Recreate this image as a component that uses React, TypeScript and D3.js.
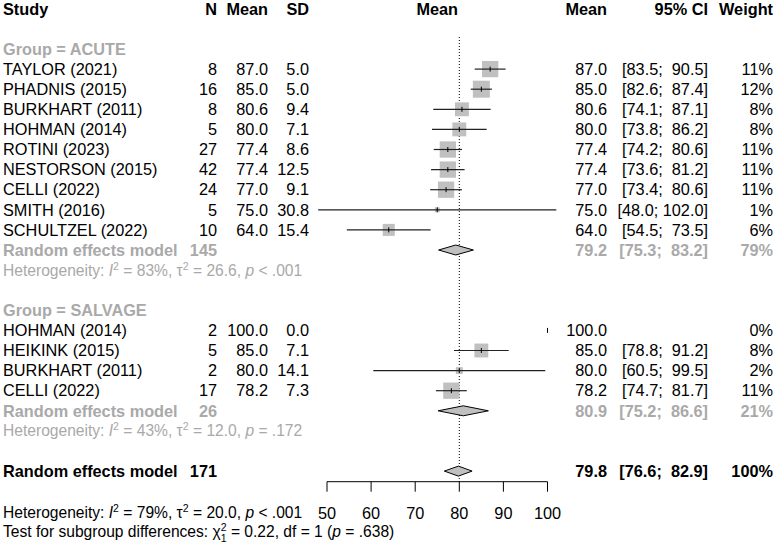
import React from "react";
import * as d3 from "d3";

// acute group
const acuteStudy = ["TAYLOR (2021)", "PHADNIS (2015)", "BURKHART (2011)", "HOHMAN (2014)", "ROTINI (2023)", "NESTORSON (2015)", "CELLI (2022)", "SMITH (2016)", "SCHULTZEL (2022)"];
const acuteN = [8, 16, 8, 5, 27, 42, 24, 5, 10];
const acuteMean = [87.0, 85.0, 80.6, 80.0, 77.4, 77.4, 77.0, 75.0, 64.0];
const acuteSD = [5.0, 5.0, 9.4, 7.1, 8.6, 12.5, 9.1, 30.8, 15.4];
const acuteLower = [83.5, 82.6, 74.1, 73.8, 74.2, 73.6, 73.4, 48.0, 54.5];
const acuteUpper = [90.5, 87.4, 87.1, 86.2, 80.6, 81.2, 80.6, 102.0, 73.5];
const acuteWeight = [11, 12, 8, 8, 11, 11, 11, 1, 6];

// salvage group
const salvageStudy = ["HOHMAN (2014)", "HEIKINK (2015)", "BURKHART (2011)", "CELLI (2022)"];
const salvageN = [2, 5, 2, 17];
const salvageMean = [100.0, 85.0, 80.0, 78.2];
const salvageSD = [0.0, 7.1, 14.1, 7.3];
const salvageLower = [100.0, 78.8, 60.5, 74.7];
const salvageUpper = [100.0, 91.2, 99.5, 81.7];
const salvageWeight = [0, 8, 2, 11];

// pooled: acute, salvage, overall
const pooledN = [145, 26, 171];
const pooledMean = [79.2, 80.9, 79.8];
const pooledLower = [75.3, 75.2, 76.6];
const pooledUpper = [83.2, 86.6, 82.9];
const pooledWeight = [79, 21, 100];
const hetI2 = ["83%", "43%", "79%"];
const hetTau2 = ["26.6", "12.0", "20.0"];
const hetP = ["< .001", "= .172", "< .001"];
const testChi = "0.22";
const testDf = 1;
const testP = ".638";

const axisTicks = [50, 60, 70, 80, 90, 100];

const FONT = "'Liberation Sans', Arial, Helvetica, sans-serif";
const FS = 16.3;
const HFS = 15.6; // heterogeneity / test lines
const SUP = 10.5;
const GRAY = "#a9a9a9";
const BOX = "#c0c0c0";

const x = d3.scaleLinear().domain([50, 100]).range([327, 547.5]);
const rowY = (i: number) => 49 + 20.1 * i;
const colN = 217, colMean = 268, colSD = 309, colEst = 607, colCI = 708, colW = 773;
const axisY = 481.7;
const fmt = d3.format(".1f");
const maxW = d3.max([...acuteWeight, ...salvageWeight]) as number;
const side = (w: number) => 17 * Math.sqrt(w / maxW);

const padL = (s: string, n: number) => " ".repeat(Math.max(0, n - s.length)) + s;
const ciText = (lo: number, hi: number) => `[${padL(fmt(lo), 4)}; ${padL(fmt(hi), 5)}]`;

const Het = ({ y, k, fill }: { y: number; k: number; fill: string }) => (
  <text x={3} y={y} dy="0.35em" fill={fill} fontSize={HFS}>
    {"Heterogeneity: "}
    <tspan fontStyle="italic">I</tspan>
    <tspan dy={-6} fontSize={SUP}>2</tspan>
    <tspan dy={6}>{` = ${hetI2[k]}, \u03c4`}</tspan>
    <tspan dy={-6} fontSize={SUP}>2</tspan>
    <tspan dy={6}>{` = ${hetTau2[k]}, `}</tspan>
    <tspan fontStyle="italic">p</tspan>
    <tspan>{` ${hetP[k]}`}</tspan>
  </text>
);

const StudyRow = (props: any) => {
  const { name, n, mean, sd, lo, hi, w, y } = props;
  const s = side(w);
  return (
    <g>
      <text x={3} y={y} dy="0.35em">{name}</text>
      <text x={colN} y={y} dy="0.35em" textAnchor="end">{n}</text>
      <text x={colMean} y={y} dy="0.35em" textAnchor="end">{fmt(mean)}</text>
      <text x={colSD} y={y} dy="0.35em" textAnchor="end">{fmt(sd)}</text>
      {w > 0 && <rect x={x(mean) - s / 2} y={y - s / 2} width={s} height={s} fill={BOX} />}
      {hi > lo && <line x1={x(lo)} x2={x(hi)} y1={y} y2={y} stroke="#222" strokeWidth={1.2} />}
      <line x1={x(mean)} x2={x(mean)} y1={y - 2.5} y2={y + 2.5} stroke="#000" strokeWidth={1} />
      <text x={colEst} y={y} dy="0.35em" textAnchor="end">{fmt(mean)}</text>
      {hi > lo && <text x={colCI} y={y} dy="0.35em" textAnchor="end" style={{ whiteSpace: "pre" }}>{ciText(lo, hi)}</text>}
      <text x={colW} y={y} dy="0.35em" textAnchor="end">{`${w}%`}</text>
    </g>
  );
};

const PooledRow = ({ k, y, color }: { k: number; y: number; color: string }) => {
  const m = pooledMean[k], lo = pooledLower[k], hi = pooledUpper[k];
  const pts = [[x(lo), y], [x(m), y - 5], [x(hi), y], [x(m), y + 5]].map(p => p.join(",")).join(" ");
  return (
    <g fontWeight="bold" fill={color}>
      <text x={3} y={y} dy="0.35em">Random effects model</text>
      <text x={colN} y={y} dy="0.35em" textAnchor="end">{pooledN[k]}</text>
      <polygon points={pts} fill={BOX} stroke="#000" strokeWidth={1} />
      <text x={colEst} y={y} dy="0.35em" textAnchor="end">{fmt(m)}</text>
      <text x={colCI} y={y} dy="0.35em" textAnchor="end" style={{ whiteSpace: "pre" }}>{ciText(lo, hi)}</text>
      <text x={colW} y={y} dy="0.35em" textAnchor="end">{`${pooledWeight[k]}%`}</text>
    </g>
  );
};

const App = () => {
  const salvageStart = 14;
  return (
    <svg width={775} height={544} style={{ position: "absolute", left: 0, top: 0, background: "#fff" }}
      fontFamily={FONT} fontSize={FS} fill="#000">
      {/* header */}
      <g fontWeight="bold">
        <text x={3} y={9} dy="0.35em">Study</text>
        <text x={colN} y={9} dy="0.35em" textAnchor="end">N</text>
        <text x={colMean} y={9} dy="0.35em" textAnchor="end">Mean</text>
        <text x={colSD} y={9} dy="0.35em" textAnchor="end">SD</text>
        <text x={(x(50) + x(100)) / 2} y={9} dy="0.35em" textAnchor="middle">Mean</text>
        <text x={colEst} y={9} dy="0.35em" textAnchor="end">Mean</text>
        <text x={colCI} y={9} dy="0.35em" textAnchor="end">95% CI</text>
        <text x={colW} y={9} dy="0.35em" textAnchor="end">Weight</text>
      </g>

      {/* reference line */}
      <line x1={x(80)} x2={x(80)} y1={37} y2={axisY} stroke="#000" strokeWidth={1} strokeDasharray="1,2" />

      {/* acute */}
      <text x={3} y={rowY(0)} dy="0.35em" fontWeight="bold" fill={GRAY}>Group = ACUTE</text>
      {acuteStudy.map((s, i) => (
        <StudyRow key={s} name={s} n={acuteN[i]} mean={acuteMean[i]} sd={acuteSD[i]}
          lo={acuteLower[i]} hi={acuteUpper[i]} w={acuteWeight[i]} y={rowY(i + 1)} />
      ))}
      <PooledRow k={0} y={rowY(10)} color={GRAY} />
      <Het y={rowY(11)} k={0} fill={GRAY} />

      {/* salvage */}
      <text x={3} y={rowY(13)} dy="0.35em" fontWeight="bold" fill={GRAY}>Group = SALVAGE</text>
      {salvageStudy.map((s, i) => (
        <StudyRow key={s + i} name={s} n={salvageN[i]} mean={salvageMean[i]} sd={salvageSD[i]}
          lo={salvageLower[i]} hi={salvageUpper[i]} w={salvageWeight[i]} y={rowY(salvageStart + i)} />
      ))}
      <PooledRow k={1} y={rowY(18)} color={GRAY} />
      <Het y={rowY(19)} k={1} fill={GRAY} />

      {/* overall */}
      <PooledRow k={2} y={rowY(21)} color="#000" />

      {/* axis */}
      <line x1={x(50)} x2={x(100)} y1={axisY} y2={axisY} stroke="#000" strokeWidth={1} />
      {axisTicks.map(t => (
        <g key={t}>
          <line x1={x(t)} x2={x(t)} y1={axisY} y2={axisY + 10} stroke="#000" strokeWidth={1} />
          <text x={x(t)} y={513} dy="0.35em" textAnchor="middle">{t}</text>
        </g>
      ))}

      {/* bottom text */}
      <Het y={513} k={2} fill="#000" />
      <text x={3} y={532} dy="0.35em" fontSize={HFS}>
        {"Test for subgroup differences: \u03c7"}
        <tspan dy={-6} fontSize={SUP}>2</tspan>
        <tspan dx={-5.8} dy={11} fontSize={SUP}>{testDf}</tspan>
        <tspan dy={-5}>{` = ${testChi}, df = ${testDf} (`}</tspan>
        <tspan fontStyle="italic">p</tspan>
        <tspan>{` = ${testP})`}</tspan>
      </text>
    </svg>
  );
};

export default App;
